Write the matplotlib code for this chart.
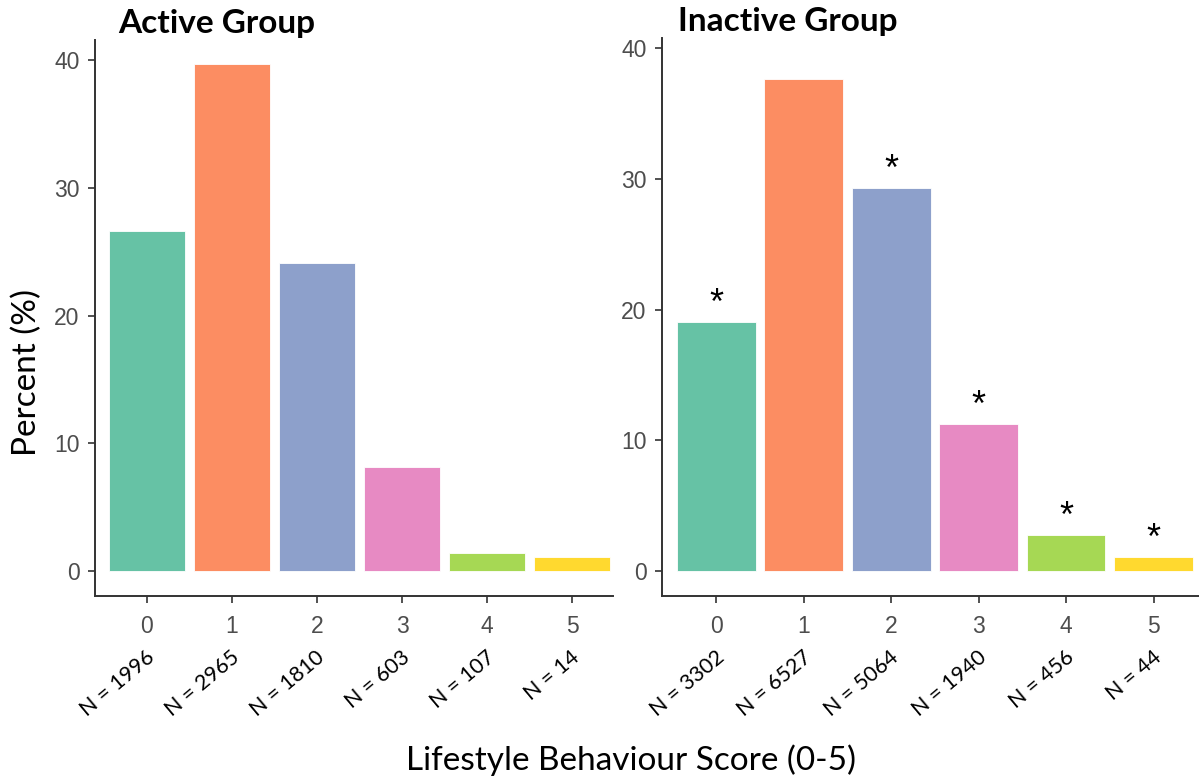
import matplotlib
matplotlib.use("Agg")
import matplotlib.pyplot as plt

# Lifestyle behaviour score categories
scores = ["0", "1", "2", "3", "4", "5"]

# Percent of each group at each score
active_pct = [26.6, 39.7, 24.1, 8.1, 1.4, 1.1]
inactive_pct = [19.1, 37.7, 29.3, 11.3, 2.8, 1.1]

# Sample sizes per score
active_n = [1996, 2965, 1810, 603, 107, 14]
inactive_n = [3302, 6527, 5064, 1940, 456, 44]

# Scores in the inactive group marked as significantly different
inactive_sig = [True, False, True, True, True, True]

colors = ["#66C2A5", "#FC8D62", "#8DA0CB", "#E78AC3", "#A6D854", "#FFD92F"]

W, H = 1199, 782
fig = plt.figure(figsize=(W / 100, H / 100), dpi=100)

tick_font = "Liberation Sans"
text_font = "Lato"
axis_col = "#333333"
label_col = "#4D4D4D"


def panel(rect, pct, ns, title, ylim, xlim, sig=None, title_x=0.0):
    ax = fig.add_axes(rect)
    x = list(range(len(scores)))
    ax.bar(x, pct, width=0.9, color=colors, edgecolor="white", linewidth=0.6, zorder=2)
    ax.set_xlim(*xlim)
    ax.set_ylim(*ylim)
    ax.set_yticks([0, 10, 20, 30, 40])
    ax.set_xticks(x)
    ax.set_xticklabels(scores)
    for s in ("top", "right"):
        ax.spines[s].set_visible(False)
    for s in ("left", "bottom"):
        ax.spines[s].set_color(axis_col)
        ax.spines[s].set_linewidth(1.4)
    ax.tick_params(axis="both", colors=axis_col, length=5, width=1.2,
                   labelcolor=label_col)
    ax.tick_params(axis="y", labelsize=16.5, pad=6)
    ax.tick_params(axis="x", labelsize=16.5, pad=9)
    for lab in ax.get_xticklabels() + ax.get_yticklabels():
        lab.set_fontfamily(tick_font)
    # sample size labels under the score ticks
    for xi, n in zip(x, ns):
        ax.text(xi + 0.06, -0.105, f"N = {n}", transform=ax.get_xaxis_transform(),
                rotation=40, rotation_mode="anchor", ha="right", va="center",
                fontsize=15.5, fontfamily=text_font, color="black")
    if sig is not None:
        for xi, v, s in zip(x, pct, sig):
            if s:
                ax.text(xi, v + 0.6, "*", ha="center", va="baseline",
                        fontsize=26, fontfamily=tick_font, color="black")
    ax.text(title_x, 1.03, title, transform=ax.transAxes, ha="left", va="center",
            fontsize=24, fontweight="bold", fontfamily=text_font, color="black")
    return ax


ax1 = panel([95 / W, 1 - 596 / H, 518 / W, 556 / H], active_pct, active_n,
            "Active Group", (-1.98, 41.6), (-0.61, 5.48), title_x=0.044)
ax2 = panel([662 / W, 1 - 596 / H, 537 / W, 558 / H], inactive_pct, inactive_n,
            "Inactive Group", (-1.9, 40.8), (-0.62, 5.52), sig=inactive_sig, title_x=0.03)

fig.text(27 / W, 1 - 372 / H, "Percent (%)", rotation=90, ha="center", va="center",
         fontsize=24, fontfamily=text_font)
fig.text(631 / W, 1 - 760 / H, "Lifestyle Behaviour Score (0-5)", ha="center", va="center",
         fontsize=24, fontfamily=text_font)

fig.savefig("out.png", dpi=100)
